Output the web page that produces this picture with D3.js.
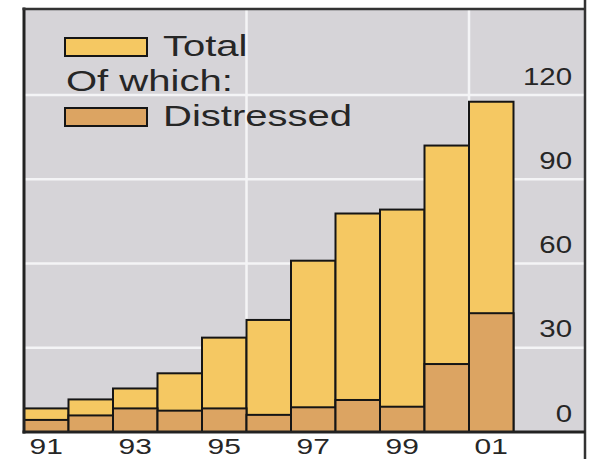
<!DOCTYPE html>
<html><head><meta charset="utf-8">
<script src="https://cdn.jsdelivr.net/npm/d3@7"></script>
<style>
html,body{margin:0;padding:0;background:#fff;}
svg{display:block;}
text{font-family:"Liberation Sans",Arial,sans-serif;fill:#262626;}
</style></head>
<body>
<script>
const years = ["91","92","93","94","95","96","97","98","99","00","01"];
const total = [8.4, 11.6, 15.5, 20.9, 33.6, 39.9, 61.0, 77.8, 79.2, 102.0, 117.6];
const distressed = [4.3, 5.9, 8.4, 7.6, 8.4, 6.1, 8.8, 11.4, 9.0, 24.2, 42.3];
const yTicks = [0, 30, 60, 90, 120];
const xTickLabels = ["91","93","95","97","99","01"];
const vGridYears = ["96","01"];
const legendItems = ["Total", "Of which:", "Distressed"];

const W = 591, H = 459;
const pLeft = 24, pRight = 585, pTop = 9, pBase = 432;
const colTotal = "#f5c862", colDist = "#dca462", bg = "#d6d4d8";

const svg = d3.select("body").append("svg").attr("width", W).attr("height", H);

const x = d3.scaleBand().domain(years).range([pLeft, 513.5]).padding(0);
const y = d3.scaleLinear().domain([0, 120]).range([pBase, 95]);

// plot background
svg.append("rect").attr("x", pLeft).attr("y", pTop).attr("width", pRight - pLeft).attr("height", pBase - pTop).attr("fill", bg);

// horizontal gridlines
svg.append("g").selectAll("line").data(yTicks.filter(d => d > 0)).join("line")
  .attr("x1", pLeft).attr("x2", pRight).attr("y1", d => y(d)).attr("y2", d => y(d))
  .attr("stroke", "#f4f4f6").attr("stroke-width", 2.5);
// vertical gridlines
svg.append("g").selectAll("line").data(vGridYears).join("line")
  .attr("x1", d => x(d)).attr("x2", d => x(d)).attr("y1", pTop).attr("y2", pBase)
  .attr("stroke", "#f4f4f6").attr("stroke-width", 2.5);

// bars
const bars = svg.append("g");
bars.selectAll("rect.total").data(years).join("rect").attr("class", "total")
  .attr("x", d => x(d)).attr("width", x.bandwidth())
  .attr("y", (d, i) => y(total[i])).attr("height", (d, i) => pBase - y(total[i]))
  .attr("fill", colTotal).attr("stroke", "#151515").attr("stroke-width", 2);
bars.selectAll("rect.dist").data(years).join("rect").attr("class", "dist")
  .attr("x", d => x(d)).attr("width", x.bandwidth())
  .attr("y", (d, i) => y(distressed[i])).attr("height", (d, i) => pBase - y(distressed[i]))
  .attr("fill", colDist).attr("stroke", "#151515").attr("stroke-width", 2);

// frame
svg.append("line").attr("x1", pLeft).attr("x2", pLeft).attr("y1", pTop - 1.5).attr("y2", pBase + 1.5).attr("stroke", "#222").attr("stroke-width", 3);
svg.append("line").attr("x1", pLeft - 1.5).attr("x2", pRight).attr("y1", pTop).attr("y2", pTop).attr("stroke", "#333").attr("stroke-width", 2.5);
svg.append("line").attr("x1", pRight).attr("x2", pRight).attr("y1", 0).attr("y2", H).attr("stroke", "#333").attr("stroke-width", 2.5);
svg.append("line").attr("x1", pLeft - 1.5).attr("x2", pRight).attr("y1", pBase).attr("y2", pBase).attr("stroke", "#222").attr("stroke-width", 3);

// x axis
const xa = svg.append("g").attr("transform", `translate(0,${pBase})`)
  .call(d3.axisBottom(x).tickValues(xTickLabels).tickSize(0).tickPadding(6));
xa.select(".domain").remove();
xa.selectAll("text").attr("font-size", 22).attr("font-family", null)
  .attr("transform", "scale(1.36,1)").style("fill", "#262626");

// y axis (labels on right, inside)
const ya = svg.append("g").attr("transform", `translate(572,0)`)
  .call(d3.axisLeft(y).tickValues(yTicks).tickSize(0).tickPadding(0));
ya.select(".domain").remove();
ya.selectAll("text").attr("font-size", 23).attr("font-family", null)
  .attr("x", 0).attr("dy", null).attr("y", -11)
  .attr("transform", "scale(1.28,1)").style("fill", "#262626");

// legend
const lg = svg.append("g");
lg.append("rect").attr("x", 65).attr("y", 38).attr("width", 82).attr("height", 18)
  .attr("fill", colTotal).attr("stroke", "#151515").attr("stroke-width", 2);
lg.append("rect").attr("x", 65).attr("y", 108).attr("width", 82).attr("height", 18)
  .attr("fill", colDist).attr("stroke", "#151515").attr("stroke-width", 2);
const lt = [[163, 56, legendItems[0]], [66, 91, legendItems[1]], [163, 126, legendItems[2]]];
lt.forEach(([tx, ty, t]) => {
  lg.append("g").attr("transform", `translate(${tx},${ty}) scale(1.38,1)`)
    .append("text").attr("font-size", 29).text(t);
});
</script>
</body></html>
